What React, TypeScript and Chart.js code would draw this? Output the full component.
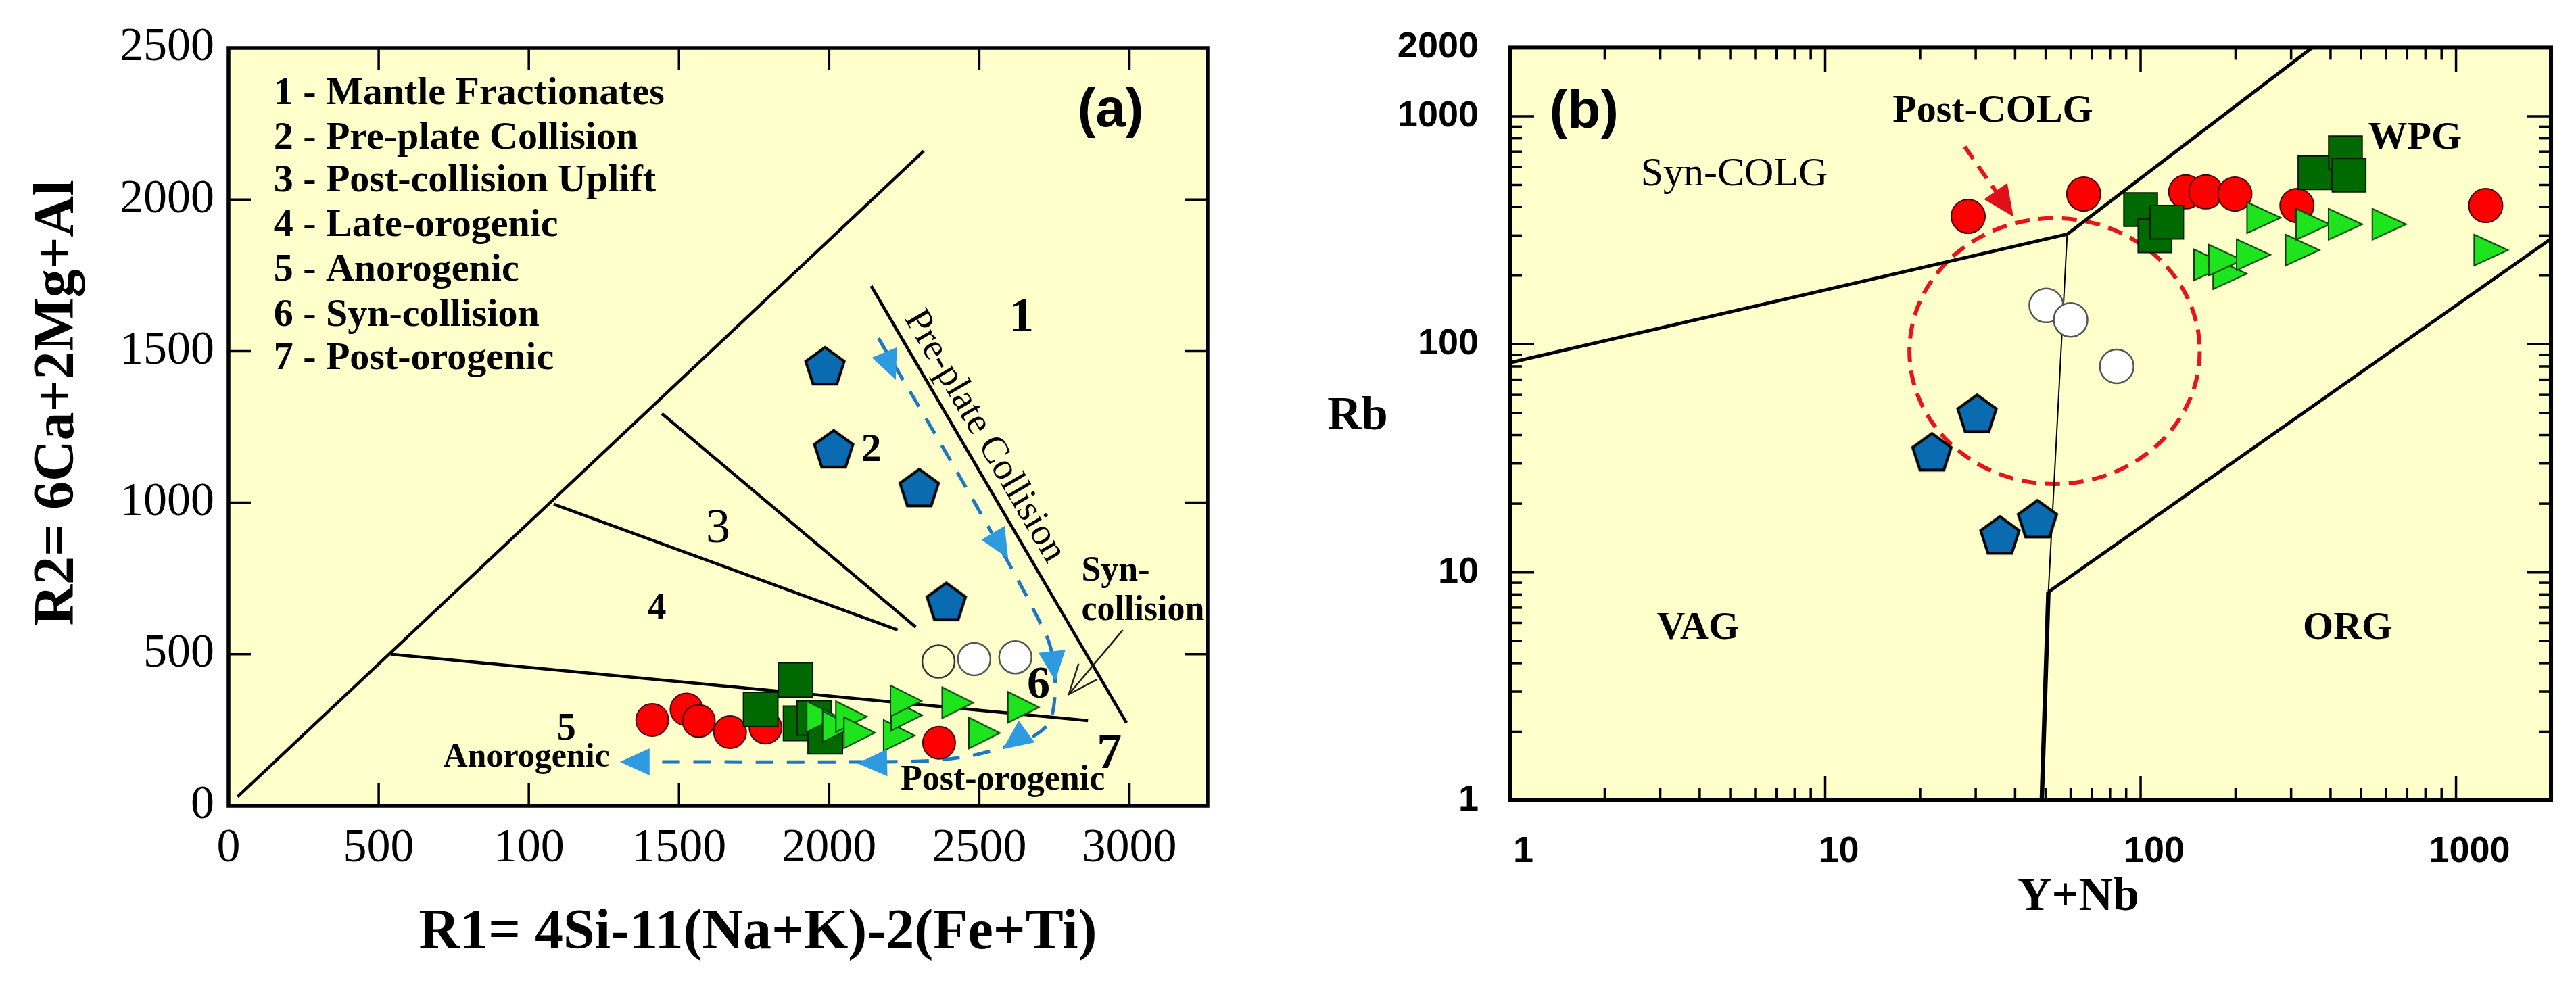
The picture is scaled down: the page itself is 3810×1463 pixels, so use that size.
import React, { useEffect, useRef } from 'react';
import { Chart, registerables } from 'chart.js';

Chart.register(...registerables);

const SERIF = '"Liberation Serif", "Times New Roman", serif';
const SANS = '"Liberation Sans", Arial, sans-serif';
const PLOT_BG = '#FFFFCC';

// ---------------- Panel (a): R1–R2 diagram ----------------
const A_X_TICKS = [0, 500, 1000, 1500, 2000, 2500, 3000];
const A_X_TICK_LABELS = ['0', '500', '100', '1500', '2000', '2500', '3000'];
const A_Y_TICKS = [0, 500, 1000, 1500, 2000, 2500];
const A_Y_TICK_LABELS = ['0', '500', '1000', '1500', '2000', '2500'];

const A_RED_R1 = [1411, 1525, 1566, 1670, 1788, 2366];
const A_RED_R2 = [283, 318, 280, 243, 258, 208];
const A_SQUARE_R1 = [1888, 1772, 1905, 1950, 1987];
const A_SQUARE_R2 = [415, 318, 272, 290, 228];
const A_TRI_R1 = [1977, 2030, 2074, 2101, 2233, 2258, 2256, 2428, 2517, 2647];
const A_TRI_R2 = [294, 261, 294, 241, 232, 299, 346, 340, 240, 325];
const A_WHITE_R1 = [2364, 2483, 2620];
const A_WHITE_R2 = [476, 484, 490];
const A_PENT_R1 = [1986, 2015, 2300, 2390];
const A_PENT_R2 = [1452, 1178, 1050, 675];

const A_FIELD_LINES = [
  [[30, 30], [2315, 2160]],
  [[540, 500], [2862, 281]],
  [[1083, 995], [2228, 580]],
  [[1443, 1294], [2288, 590]],
  [[2140, 1715], [2990, 274]],
];
const A_TREND_R1 = [2164, 2450, 2724, 2752, 2738, 2685, 2590, 2476, 2342, 2162, 1300];
const A_TREND_R2 = [1543, 1060, 560, 420, 285, 232, 196, 166, 149, 145, 145];
const A_TREND_HEADS = [
  [[2164, 1543], [2222, 1405]],
  [[2450, 1060], [2596, 816]],
  [[2744, 491], [2753, 412]],
  [[2640, 232], [2578, 187]],
  [[2187, 142], [2094, 140]],
  [[1434, 145], [1303, 145]],
];
const A_SYN_POINTER = [[2978, 580], [2798, 368]];
const A_LEGEND = [
  '1 - Mantle Fractionates',
  '2 - Pre-plate Collision',
  '3 - Post-collision Uplift',
  '4 - Late-orogenic',
  '5 - Anorogenic',
  '6 - Syn-collision',
  '7 - Post-orogenic',
];
const A_LEGEND_R2 = [2348, 2201, 2061, 1913, 1766, 1617, 1474];

// ---------------- Panel (b): Rb vs Y+Nb ----------------
const B_X_TICKS = [1, 10, 100, 1000];
const B_Y_TICKS = [1, 10, 100, 1000, 2000];

const B_RED_YNB = [28.4, 66, 139, 161, 199, 313, 1242];
const B_RED_RB = [364, 456, 466, 466, 456, 406, 406];
const B_SQUARE_YNB = [100, 111, 121, 357, 446, 458];
const B_SQUARE_RB = [390, 299, 343, 565, 691, 552];
const B_TRI_YNB = [246, 167, 192, 186, 228, 326, 352, 446, 614, 1291];
const B_TRI_RB = [359, 223, 204, 234, 247, 259, 336, 336, 336, 259];
const B_WHITE_YNB = [50.2, 60, 84];
const B_WHITE_RB = [148, 128, 80];
const B_PENT_YNB = [30.3, 21.8, 47.1, 35.8];
const B_PENT_RB = [49.9, 33.8, 17.2, 14.6];

const B_FIELD_LINES = [
  [[1, 83], [58.5, 304]],
  [[58.5, 304], [350, 2000]],
  [[51, 8.2], [2000, 290]],
];
const B_THIN_LINE = [[58.5, 304], [51, 8.2]];
const B_STEM_LINE = [[48.6, 1], [51, 8.2]];
const B_POSTCOLG_BOX = { xMin: 18.5, xMax: 154, yMin: 24.4, yMax: 357 };
const B_POSTCOLG_ARROW = [[27.7, 735], [39.5, 363]];

// ---------------- helpers ----------------
const pts = (xs: number[], ys: number[]) => xs.map((x, i) => ({ x, y: ys[i] }));
const pairPts = (line: number[][]) => line.map(([x, y]) => ({ x, y }));

function makePentagon(r: number, fill: string, stroke: string, lw: number) {
  const size = Math.ceil(2 * r + 2 * lw + 4);
  const c = document.createElement('canvas');
  c.width = size;
  c.height = size;
  const g = c.getContext('2d')!;
  const cx = size / 2;
  const cy = size / 2 + r * 0.0955;
  g.beginPath();
  for (let i = 0; i < 5; i++) {
    const a = -Math.PI / 2 + (i * 2 * Math.PI) / 5;
    const px = cx + r * Math.cos(a);
    const py = cy + r * Math.sin(a);
    if (i === 0) g.moveTo(px, py);
    else g.lineTo(px, py);
  }
  g.closePath();
  g.fillStyle = fill;
  g.fill();
  g.lineJoin = 'miter';
  g.lineWidth = lw;
  g.strokeStyle = stroke;
  g.stroke();
  return c;
}

function makeTriangle(w: number, h: number, fill: string, stroke: string, lw: number) {
  const m = lw * 3 + 2;
  const c = document.createElement('canvas');
  c.width = Math.ceil(w + 2 * m);
  c.height = Math.ceil(h + 2 * m);
  const g = c.getContext('2d')!;
  g.beginPath();
  g.moveTo(m, m);
  g.lineTo(m + w, m + h / 2);
  g.lineTo(m, m + h);
  g.closePath();
  g.fillStyle = fill;
  g.fill();
  g.lineJoin = 'miter';
  g.lineWidth = lw;
  g.strokeStyle = stroke;
  g.stroke();
  return c;
}

function arrowHead(ctx: CanvasRenderingContext2D, fx: number, fy: number, tx: number, ty: number, len: number, hw: number, filled: boolean) {
  const ang = Math.atan2(ty - fy, tx - fx);
  const bx = tx - len * Math.cos(ang);
  const by = ty - len * Math.sin(ang);
  const nx = -Math.sin(ang);
  const ny = Math.cos(ang);
  ctx.beginPath();
  if (filled) {
    ctx.moveTo(tx, ty);
    ctx.lineTo(bx + hw * nx, by + hw * ny);
    ctx.lineTo(bx - hw * nx, by - hw * ny);
    ctx.closePath();
    ctx.fill();
  } else {
    ctx.moveTo(bx + hw * nx, by + hw * ny);
    ctx.lineTo(tx, ty);
    ctx.lineTo(bx - hw * nx, by - hw * ny);
    ctx.stroke();
  }
}

function text(ctx: CanvasRenderingContext2D, s: string, x: number, y: number, font: string, align: CanvasTextAlign = 'center', rot = 0) {
  ctx.save();
  ctx.translate(x, y);
  if (rot) ctx.rotate(rot);
  ctx.font = font;
  ctx.fillStyle = '#000';
  ctx.textAlign = align;
  ctx.textBaseline = 'middle';
  ctx.fillText(s, 0, 0);
  ctx.restore();
}

function fillBackground(chart: any) {
  const { ctx, chartArea: a } = chart;
  ctx.save();
  ctx.fillStyle = '#FFFFFF';
  ctx.fillRect(0, 0, chart.width, chart.height);
  ctx.fillStyle = PLOT_BG;
  ctx.fillRect(a.left, a.top, a.right - a.left, a.bottom - a.top);
  ctx.restore();
}

function tickLine(ctx: CanvasRenderingContext2D, x1: number, y1: number, x2: number, y2: number) {
  ctx.beginPath();
  ctx.moveTo(x1, y1);
  ctx.lineTo(x2, y2);
  ctx.stroke();
}

const plugA = {
  id: 'decorA',
  beforeDraw(chart: any) {
    fillBackground(chart);
  },
  afterDatasetsDraw(chart: any) {
    const { ctx, chartArea: a, scales } = chart;
    const X = (v: number) => scales.x.getPixelForValue(v);
    const Y = (v: number) => scales.y.getPixelForValue(v);
    ctx.save();
    // trend arrow heads
    ctx.fillStyle = '#2E9BE0';
    for (const [f, t] of A_TREND_HEADS) arrowHead(ctx, X(f[0]), Y(f[1]), X(t[0]), Y(t[1]), 44, 20, true);
    // syn-collision pointer
    ctx.strokeStyle = '#222';
    ctx.lineWidth = 2.5;
    const [p0, p1] = A_SYN_POINTER;
    tickLine(ctx, X(p0[0]), Y(p0[1]), X(p1[0]), Y(p1[1]));
    arrowHead(ctx, X(p0[0]), Y(p0[1]), X(p1[0]), Y(p1[1]), 44, 18, false);

    // legend
    A_LEGEND.forEach((s, i) => text(ctx, s, X(150), Y(A_LEGEND_R2[i]), `bold 58px ${SERIF}`, 'left'));
    text(ctx, '(a)', X(2937), Y(2290), `bold 80px ${SANS}`);
    // field numbers
    text(ctx, '1', X(2641), Y(1608), `bold 72px ${SERIF}`);
    text(ctx, '2', X(2140), Y(1172), `bold 60px ${SERIF}`);
    text(ctx, '3', X(1630), Y(912), `72px ${SERIF}`);
    text(ctx, '4', X(1426), Y(647), `bold 56px ${SERIF}`);
    text(ctx, '5', X(1125), Y(251), `bold 56px ${SERIF}`);
    text(ctx, '6', X(2697), Y(395), `bold 68px ${SERIF}`);
    text(ctx, '7', X(2933), Y(167), `bold 74px ${SERIF}`);
    text(ctx, 'Anorogenic', X(992), Y(158), `bold 50px ${SERIF}`);
    text(ctx, 'Post-orogenic', X(2578), Y(84), `bold 52px ${SERIF}`);
    text(ctx, 'Syn-', X(2840), Y(772), `bold 52px ${SERIF}`, 'left');
    text(ctx, 'collision', X(2840), Y(644), `bold 52px ${SERIF}`, 'left');
    const [e0, e1] = A_FIELD_LINES[4];
    const ang = Math.atan2(Y(e1[1]) - Y(e0[1]), X(e1[0]) - X(e0[0]));
    text(ctx, 'Pre-plate Collision', X(2517), Y(1219), `56px ${SERIF}`, 'center', ang);

    // frame and inward ticks
    ctx.strokeStyle = '#000';
    ctx.lineWidth = 3.5;
    const TL = 33;
    for (const v of A_X_TICKS) {
      if (v <= 0) continue;
      const px = X(v);
      tickLine(ctx, px, a.bottom, px, a.bottom - TL);
      tickLine(ctx, px, a.top, px, a.top + TL);
    }
    for (const v of A_Y_TICKS) {
      if (v <= 0 || v >= 2500) continue;
      const py = Y(v);
      tickLine(ctx, a.left, py, a.left + TL, py);
      tickLine(ctx, a.right, py, a.right - TL, py);
    }
    ctx.lineWidth = 5.5;
    ctx.strokeRect(a.left, a.top, a.right - a.left, a.bottom - a.top);

    // axis titles
    text(ctx, 'R1= 4Si-11(Na+K)-2(Fe+Ti)', 1121, 1381, `bold 84px ${SERIF}`);
    text(ctx, 'R2= 6Ca+2Mg+Al', 86, 596, `bold 84px ${SERIF}`, 'center', -Math.PI / 2);
    ctx.restore();
  },
};

const plugB = {
  id: 'decorB',
  beforeDraw(chart: any) {
    fillBackground(chart);
  },
  beforeDatasetsDraw(chart: any) {
    const { ctx, scales } = chart;
    const X = (v: number) => scales.x.getPixelForValue(v);
    const Y = (v: number) => scales.y.getPixelForValue(v);
    ctx.save();
    ctx.strokeStyle = '#E8141A';
    ctx.fillStyle = '#E0101A';
    ctx.lineWidth = 6;
    ctx.setLineDash([22, 13]);
    const b = B_POSTCOLG_BOX;
    const x0 = X(b.xMin), x1 = X(b.xMax), y0 = Y(b.yMax), y1 = Y(b.yMin);
    ctx.beginPath();
    ctx.ellipse((x0 + x1) / 2, (y0 + y1) / 2, (x1 - x0) / 2, (y1 - y0) / 2, 0, 0, Math.PI * 2);
    ctx.stroke();
    const [f, t] = B_POSTCOLG_ARROW;
    const fx = X(f[0]), fy = Y(f[1]), tx = X(t[0]), ty = Y(t[1]);
    const ang = Math.atan2(ty - fy, tx - fx);
    ctx.beginPath();
    ctx.moveTo(fx, fy);
    ctx.lineTo(tx - 40 * Math.cos(ang), ty - 40 * Math.sin(ang));
    ctx.stroke();
    ctx.setLineDash([]);
    arrowHead(ctx, fx, fy, tx, ty, 46, 21, true);
    ctx.restore();
  },
  afterDatasetsDraw(chart: any) {
    const { ctx, chartArea: a, scales } = chart;
    const X = (v: number) => scales.x.getPixelForValue(v);
    const Y = (v: number) => scales.y.getPixelForValue(v);
    ctx.save();
    text(ctx, '(b)', X(1.72), Y(1032), `bold 80px ${SANS}`);
    text(ctx, 'Syn-COLG', X(5.15), Y(556), `60px ${SERIF}`);
    text(ctx, 'Post-COLG', X(34), Y(1047), `bold 58px ${SERIF}`);
    text(ctx, 'WPG', X(741), Y(797), `bold 58px ${SERIF}`);
    text(ctx, 'VAG', X(3.95), Y(5.68), `bold 58px ${SERIF}`);
    text(ctx, 'ORG', X(453), Y(5.68), `bold 58px ${SERIF}`);

    ctx.strokeStyle = '#000';
    ctx.lineWidth = 3.5;
    const MAJ = 36;
    const MIN = 18;
    const xMax = scales.x.max;
    const yMax = scales.y.max;
    for (let d = 1; d <= 1000; d *= 10) {
      for (let k = 1; k <= 9; k++) {
        const v = k * d;
        const len = k === 1 ? MAJ : MIN;
        if (v > 1 && v < xMax) {
          const px = X(v);
          tickLine(ctx, px, a.bottom, px, a.bottom - len);
          tickLine(ctx, px, a.top, px, a.top + len);
        }
        if (v > 1 && v < yMax) {
          const py = Y(v);
          tickLine(ctx, a.left, py, a.left + len, py);
          tickLine(ctx, a.right, py, a.right - len, py);
        }
      }
    }
    ctx.lineWidth = 6;
    ctx.strokeRect(a.left, a.top, a.right - a.left, a.bottom - a.top);

    text(ctx, 'Rb', 108, 617, `bold 70px ${SERIF}`);
    text(ctx, 'Y+Nb', 1174, 1328, `bold 70px ${SERIF}`);
    ctx.restore();
  },
};

const commonOptions = {
  animation: false,
  responsive: false,
  devicePixelRatio: 1,
  events: [],
  plugins: { legend: { display: false }, tooltip: { enabled: false } },
};

function lineDataset(line: number[][], width: number, order: number) {
  return {
    data: pairPts(line),
    showLine: true,
    borderColor: '#000',
    borderWidth: width,
    pointRadius: 0,
    fill: false,
    order,
  };
}

export default function App() {
  const refA = useRef<HTMLCanvasElement>(null);
  const refB = useRef<HTMLCanvasElement>(null);

  useEffect(() => {
    const pent = makePentagon(30, '#0B6BB0', '#000', 4);
    const triA = makeTriangle(46, 46, '#1DE41D', '#0A3F0A', 2);
    const triB = makeTriangle(50, 46, '#1DE41D', '#0A3F0A', 2);

    const chartA = new Chart(refA.current as HTMLCanvasElement, {
      type: 'scatter',
      data: {
        datasets: [
          { data: pts(A_PENT_R1, A_PENT_R2), pointStyle: pent, pointRadius: 25, order: 1 },
          {
            data: pts(A_WHITE_R1, A_WHITE_R2), pointStyle: 'circle', pointRadius: 24,
            pointBackgroundColor: ['rgba(255,255,255,0)', '#FFFFFF', '#FFFFFF'],
            pointBorderColor: ['#333333', '#555555', '#555555'], pointBorderWidth: 2.5, order: 2,
          },
          { data: pts(A_TRI_R1, A_TRI_R2), pointStyle: triA, pointRadius: 25, order: 3 },
          {
            data: pts(A_SQUARE_R1, A_SQUARE_R2), pointStyle: 'rect', pointRadius: 36,
            pointBackgroundColor: '#006A00', pointBorderColor: '#001A00', pointBorderWidth: 2, order: 4,
          },
          {
            data: pts(A_RED_R1, A_RED_R2), pointStyle: 'circle', pointRadius: 24,
            pointBackgroundColor: '#FF0000', pointBorderColor: '#4A0000', pointBorderWidth: 2, order: 5,
          },
          {
            data: pts(A_TREND_R1, A_TREND_R2), showLine: true, borderColor: '#1D78C1', borderWidth: 5,
            borderDash: [26, 20], tension: 0.3, pointRadius: 0, fill: false, order: 8,
          },
          ...A_FIELD_LINES.map((l) => lineDataset(l, 4.5, 10)),
        ],
      } as any,
      options: {
        ...commonOptions,
        layout: { padding: { left: 0, top: 71, right: 114, bottom: 0 } },
        scales: {
          x: {
            type: 'linear', position: 'bottom', min: 0, max: 3260,
            grid: { display: false }, border: { display: false },
            afterBuildTicks: (s: any) => { s.ticks = A_X_TICKS.map((value) => ({ value })); },
            afterFit: (s: any) => { s.height = 271; },
            ticks: {
              autoSkip: false, maxRotation: 0, minRotation: 0, padding: 14, color: '#000',
              font: { family: SERIF, size: 70, weight: 'normal' },
              callback: (v: any) => A_X_TICK_LABELS[A_X_TICKS.indexOf(Number(v))] ?? '',
            },
          },
          y: {
            type: 'linear', position: 'left', min: 0, max: 2500,
            grid: { display: false }, border: { display: false },
            afterBuildTicks: (s: any) => { s.ticks = A_Y_TICKS.map((value) => ({ value })); },
            afterFit: (s: any) => { s.width = 338; },
            ticks: {
              autoSkip: false, padding: 13, color: '#000',
              font: { family: SERIF, size: 70, weight: 'normal' },
              callback: (v: any) => A_Y_TICK_LABELS[A_Y_TICKS.indexOf(Number(v))] ?? '',
            },
          },
        },
      } as any,
      plugins: [plugA as any],
    });

    const chartB = new Chart(refB.current as HTMLCanvasElement, {
      type: 'scatter',
      data: {
        datasets: [
          { data: pts(B_PENT_YNB, B_PENT_RB), pointStyle: pent, pointRadius: 25, order: 1 },
          {
            data: pts(B_WHITE_YNB, B_WHITE_RB), pointStyle: 'circle', pointRadius: 25,
            pointBackgroundColor: '#FFFFFF', pointBorderColor: '#555555', pointBorderWidth: 2.5, order: 2,
          },
          { data: pts(B_TRI_YNB, B_TRI_RB), pointStyle: triB, pointRadius: 25, order: 3 },
          {
            data: pts(B_SQUARE_YNB, B_SQUARE_RB), pointStyle: 'rect', pointRadius: 35,
            pointBackgroundColor: '#006A00', pointBorderColor: '#001A00', pointBorderWidth: 2, order: 4,
          },
          {
            data: pts(B_RED_YNB, B_RED_RB), pointStyle: 'circle', pointRadius: 25,
            pointBackgroundColor: '#FF0000', pointBorderColor: '#4A0000', pointBorderWidth: 2, order: 5,
          },
          ...B_FIELD_LINES.map((l) => lineDataset(l, 5, 10)),
          lineDataset(B_THIN_LINE, 2, 10),
          lineDataset(B_STEM_LINE, 6.5, 10),
        ],
      } as any,
      options: {
        ...commonOptions,
        layout: { padding: { left: 0, top: 68, right: 32, bottom: 0 } },
        scales: {
          x: {
            type: 'logarithmic', position: 'bottom', min: 1, max: 2000,
            grid: { display: false }, border: { display: false },
            afterBuildTicks: (s: any) => { s.ticks = B_X_TICKS.map((value) => ({ value })); },
            afterFit: (s: any) => { s.height = 279; },
            ticks: {
              autoSkip: false, maxRotation: 0, minRotation: 0, padding: 36, labelOffset: 20, color: '#000',
              font: { family: SANS, size: 54, weight: 'bold' },
              callback: (v: any) => String(v),
            },
          },
          y: {
            type: 'logarithmic', position: 'left', min: 1, max: 2000,
            grid: { display: false }, border: { display: false },
            afterBuildTicks: (s: any) => { s.ticks = B_Y_TICKS.map((value) => ({ value })); },
            afterFit: (s: any) => { s.width = 333; },
            ticks: {
              autoSkip: false, padding: 38, color: '#000',
              font: { family: SANS, size: 54, weight: 'bold' },
              callback: (v: any) => String(v),
            },
          },
        },
      } as any,
      plugins: [plugB as any],
    });

    return () => {
      chartA.destroy();
      chartB.destroy();
    };
  }, []);

  return (
    <div style={{ position: 'absolute', left: 0, top: 0, width: 3810, height: 1463, background: '#FFFFFF', overflow: 'hidden' }}>
      <canvas ref={refA} width={1900} height={1463} style={{ position: 'absolute', left: 0, top: 0, width: 1900, height: 1463 }} />
      <canvas ref={refB} width={1910} height={1463} style={{ position: 'absolute', left: 1900, top: 0, width: 1910, height: 1463 }} />
    </div>
  );
}
